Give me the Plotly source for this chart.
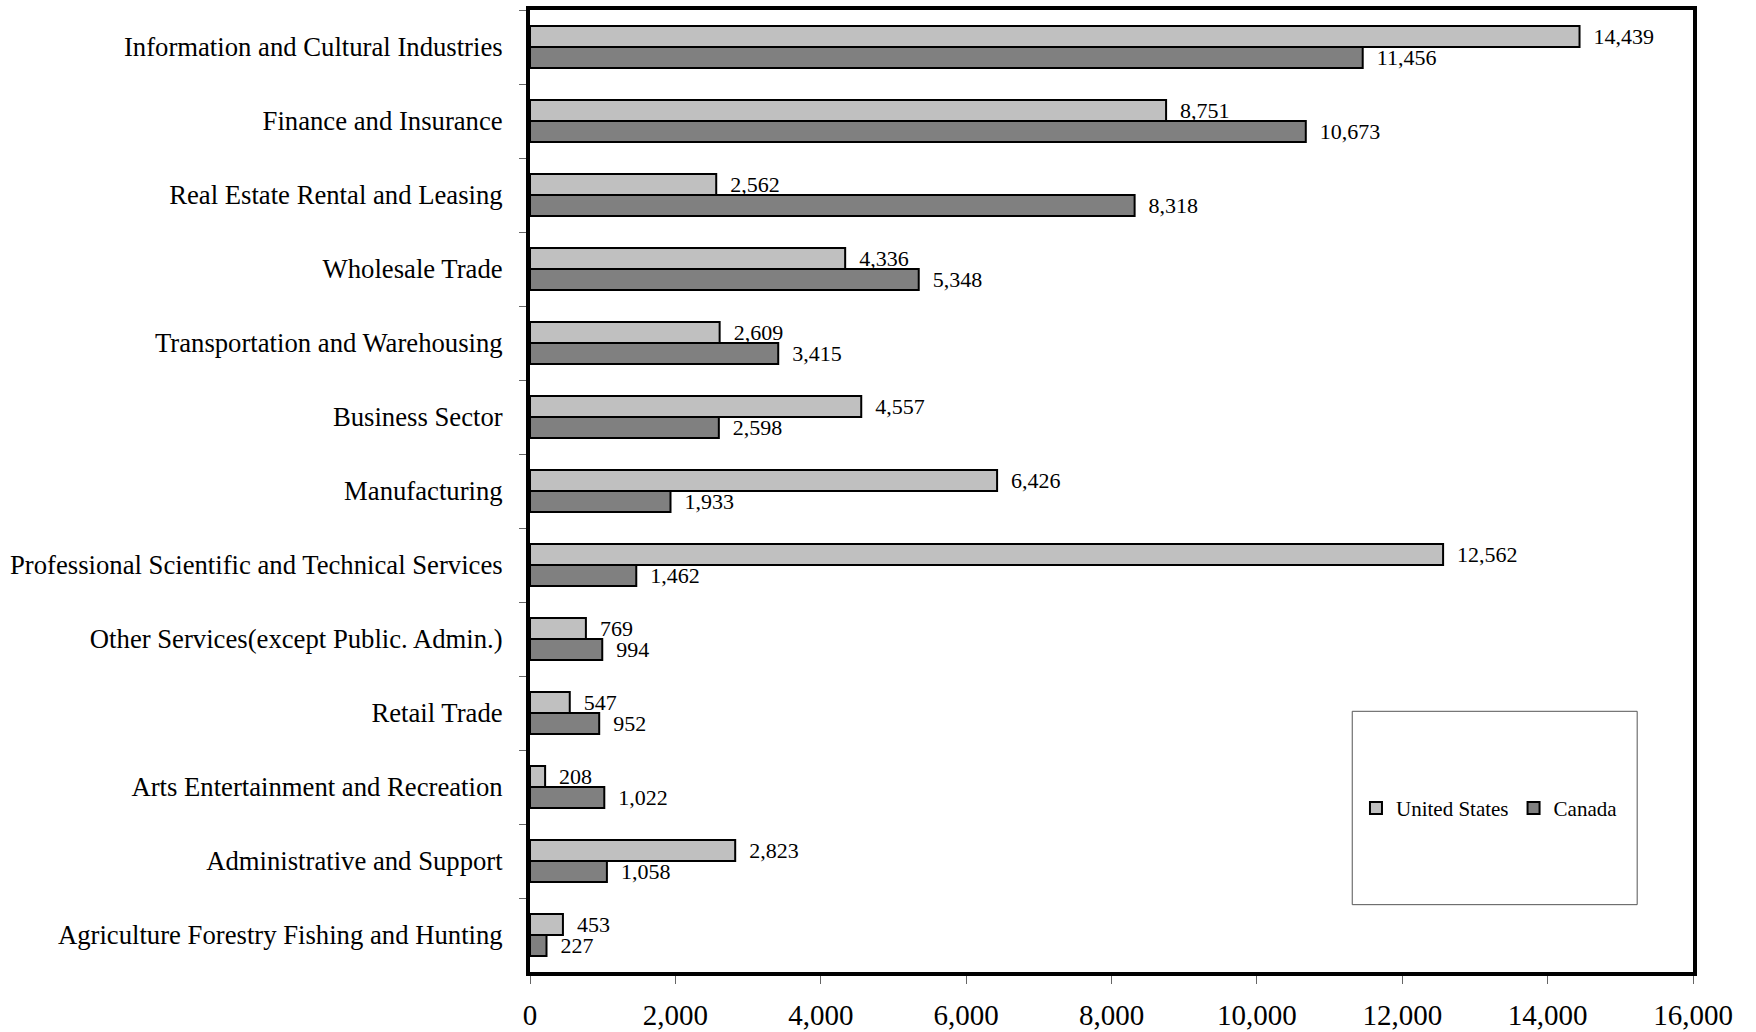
import plotly.graph_objects as go

categories = [
    "Information and Cultural Industries",
    "Finance and Insurance",
    "Real Estate Rental and Leasing",
    "Wholesale Trade",
    "Transportation and Warehousing",
    "Business Sector",
    "Manufacturing",
    "Professional Scientific and Technical Services",
    "Other Services(except Public. Admin.)",
    "Retail Trade",
    "Arts Entertainment and Recreation",
    "Administrative and Support",
    "Agriculture Forestry Fishing and Hunting",
]
us_values = [14439, 8751, 2562, 4336, 2609, 4557, 6426, 12562, 769, 547, 208, 2823, 453]
canada_values = [11456, 10673, 8318, 5348, 3415, 2598, 1933, 1462, 994, 952, 1022, 1058, 227]
x_ticks = [0, 2000, 4000, 6000, 8000, 10000, 12000, 14000, 16000]

FONT = "Liberation Serif"
PAD = "\u00a0\u00a0"

fig = go.Figure()
fig.add_trace(go.Bar(
    name="United States", y=categories, x=us_values, orientation="h",
    marker=dict(color="#C0C0C0", line=dict(color="black", width=2)),
    text=[PAD + f"{v:,}" for v in us_values], textposition="outside",
    constraintext="none", cliponaxis=False,
    textfont=dict(family=FONT, size=22, color="black"),
))
fig.add_trace(go.Bar(
    name="Canada", y=categories, x=canada_values, orientation="h",
    marker=dict(color="#808080", line=dict(color="black", width=2)),
    text=[PAD + f"{v:,}" for v in canada_values], textposition="outside",
    constraintext="none", cliponaxis=False,
    textfont=dict(family=FONT, size=22, color="black"),
))

fig.update_layout(
    width=1756, height=1032,
    margin=dict(l=530, r=63, t=10, b=60, autoexpand=False),
    paper_bgcolor="white", plot_bgcolor="white",
    barmode="group", bargap=0.43, bargroupgap=0,
    font=dict(family=FONT, color="black"),
    showlegend=True,
    legend=dict(orientation="h", x=0.825, xanchor="center", y=0.170, yanchor="middle",
                bgcolor="rgba(0,0,0,0)", font=dict(family=FONT, size=21),
                itemwidth=30, traceorder="normal"),
    shapes=[dict(type="rect", xref="paper", yref="paper",
                 x0=0.707, x1=0.952, y0=0.070, y1=0.271,
                 line=dict(color="#555555", width=1), fillcolor="rgba(0,0,0,0)")],
)
fig.update_xaxes(
    range=[0, 16000], tickvals=x_ticks, tickformat=",",
    showgrid=False, zeroline=False, automargin=False,
    showline=True, linecolor="black", linewidth=4, mirror=True,
    ticks="outside", ticklen=8, tickcolor="#666666", tickwidth=1,
    tickfont=dict(family=FONT, size=29), ticklabelstandoff=6,
)
fig.update_yaxes(
    categoryorder="array", categoryarray=categories, autorange="reversed",
    tickson="boundaries", showgrid=False, zeroline=False, automargin=False,
    showline=True, linecolor="black", linewidth=4, mirror=True,
    ticks="outside", ticklen=7, tickcolor="#666666", tickwidth=1,
    tickfont=dict(family=FONT, size=26.7), ticklabelstandoff=18,
)

fig.write_html("out.html", config={"displayModeBar": False},
               post_script="document.body.style.margin='0px';")
